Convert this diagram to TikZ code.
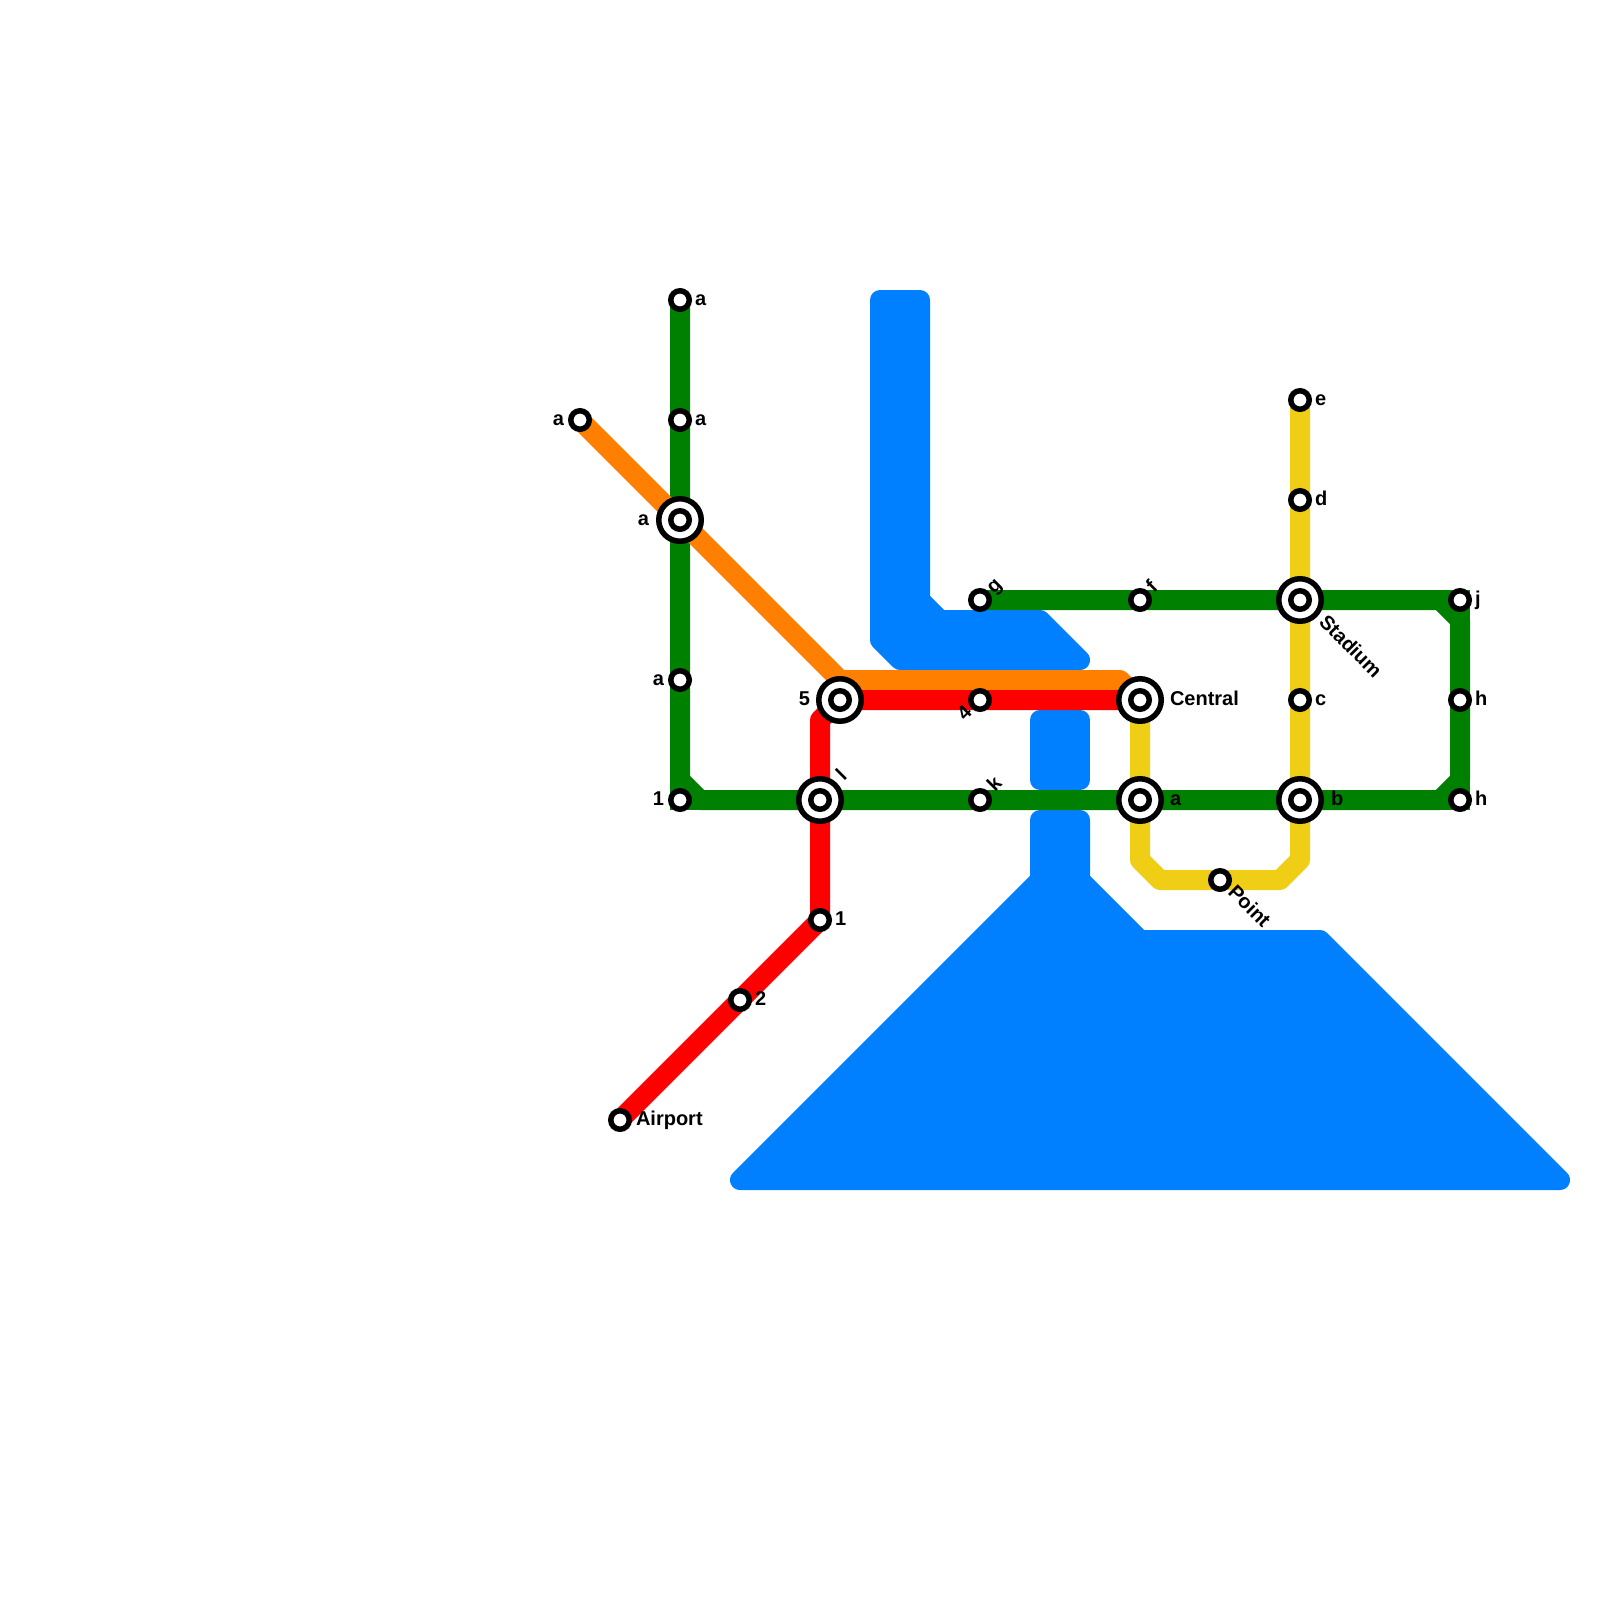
\documentclass[tikz,border=0pt]{standalone}
\usepackage{fontspec}
\setmainfont{Liberation Sans}
\definecolor{water}{HTML}{0080FF}
\definecolor{lgreen}{HTML}{008000}
\definecolor{lred}{HTML}{FF0000}
\definecolor{lorange}{HTML}{FF8000}
\definecolor{lyellow}{HTML}{F0CE15}
\tikzset{
  waterbody/.style={draw=water,fill=water,line width=20pt,line join=round},
  metro/.style={line width=20pt,line join=round,line cap=round},
  corner/.style={line width=20pt,line join=miter,line cap=butt,lgreen},
  stop/.style={circle,draw=black,fill=white,line width=5.5pt,minimum size=18.5pt,inner sep=0pt,outer sep=0pt},
  hubring/.style={circle,draw=black,fill=white,line width=5.5pt,minimum size=42.5pt,inner sep=0pt,outer sep=0pt},
  lbl/.style={font=\fontsize{20pt}{20pt}\selectfont\bfseries,inner sep=0pt,outer sep=0pt,text=black},
  lr/.style={lbl,anchor=base west},
  ll/.style={lbl,anchor=base east},
}
\begin{document}
\begin{tikzpicture}[x=1pt,y=-1pt]
\useasboundingbox (0,0) rectangle (1600,1600);
\fill[white] (0,0) rectangle (1600,1600);
% water
\draw[waterbody] (880,300)--(920,300)--(920,600)--(940,620)--(1040,620)--(1080,660)--(900,660)--(880,640)--cycle;
\draw[waterbody] (1040,720)--(1080,720)--(1080,780)--(1040,780)--cycle;
\draw[waterbody] (1040,820)--(1080,820)--(1080,880)--(1140,940)--(1320,940)--(1560,1180)--(740,1180)--(1040,880)--cycle;
% coordinates
\coordinate (aT) at (680,300);
\coordinate (aU) at (680,420);
\coordinate (aL) at (580,420);
\coordinate (aH) at (680,520);
\coordinate (aD) at (680,680);
\coordinate (one) at (680,800);
\coordinate (lH) at (820,800);
\coordinate (fiveH) at (840,700);
\coordinate (four) at (980,700);
\coordinate (gS) at (980,600);
\coordinate (fS) at (1140,600);
\coordinate (stad) at (1300,600);
\coordinate (jS) at (1460,600);
\coordinate (hU) at (1460,700);
\coordinate (hD) at (1460,800);
\coordinate (bH) at (1300,800);
\coordinate (aH2) at (1140,800);
\coordinate (cent) at (1140,700);
\coordinate (cS) at (1300,700);
\coordinate (dS) at (1300,500);
\coordinate (eS) at (1300,400);
\coordinate (pt) at (1220,880);
\coordinate (kS) at (980,800);
\coordinate (oneB) at (820,920);
\coordinate (two) at (740,1000);
\coordinate (air) at (620,1120);
% lines
\draw[metro,lyellow] (eS)--(bH)--(1300,860)--(1280,880)--(1160,880)--(1140,860)--(cent);
\draw[metro,lgreen] (aT)--(680,780)--(700,800)--(1440,800)--(1460,780)--(1460,620)--(1440,600)--(gS);
\draw[corner] (680,780)--(one)--(700,800);
\draw[corner] (1440,800)--(hD)--(1460,780);
\draw[corner] (1460,620)--(jS)--(1440,600);
\draw[metro,lred] (cent)--(fiveH)--(820,720)--(oneB)--(air);
\draw[metro,lorange] (aL)--(840,680)--(1120,680)--(cent);
\draw[metro,lred,line cap=butt] (cent)--(fiveH);
% stations
\foreach \p in {aH,lH,fiveH,aH2,cent,stad,bH} \node[hubring] at (\p) {};
\foreach \p in {aT,aU,aL,aH,aD,one,lH,fiveH,four,gS,fS,stad,jS,hU,hD,bH,aH2,cent,cS,dS,eS,pt,kS,oneB,two,air} \node[stop] at (\p) {};
% labels
\node[lr] (t1) at (695,305) {a};
\node[lr] (t2) at (695,425) {a};
\node[ll] (t3) at (564,425) {a};
\node[ll] (t4) at (649,525) {a};
\node[ll] (t5) at (664,685) {a};
\node[ll] (t6) at (664,805) {1};
\node[ll] (t7) at (810,705) {5};
\node[lbl,anchor=base west,rotate=45] (t8) at (844,781) {l};
\node[lbl,anchor=base east,rotate=45] (t9) at (973,714) {4};
\node[lbl,anchor=base west,rotate=45] (t10) at (994,594) {g};
\node[lbl,anchor=base west,rotate=45] (t11) at (1154,593) {f};
\node[lbl,anchor=base west,rotate=45] (t12) at (995,792) {k};
\node[lr] (t13) at (1170,705) {Central};
\node[lr] (t14) at (1170,805) {a};
\node[lr] (t15) at (1331,805) {b};
\node[lr] (t16) at (1315,405) {e};
\node[lr] (t17) at (1315,505) {d};
\node[lr] (t18) at (1315,705) {c};
\node[lr] (t19) at (1475,605) {j};
\node[lr] (t20) at (1475,705) {h};
\node[lr] (t21) at (1475,805) {h};
\node[lbl,anchor=base west,rotate=-45] (t22) at (1318,623) {Stadium};
\node[lbl,anchor=base west,rotate=-45] (t23) at (1227,893) {Point};
\node[lr] (t24) at (835,925) {1};
\node[lr] (t25) at (755,1005) {2};
\node[lr] (t26) at (636,1125) {Airport};
\end{tikzpicture}
\end{document}
